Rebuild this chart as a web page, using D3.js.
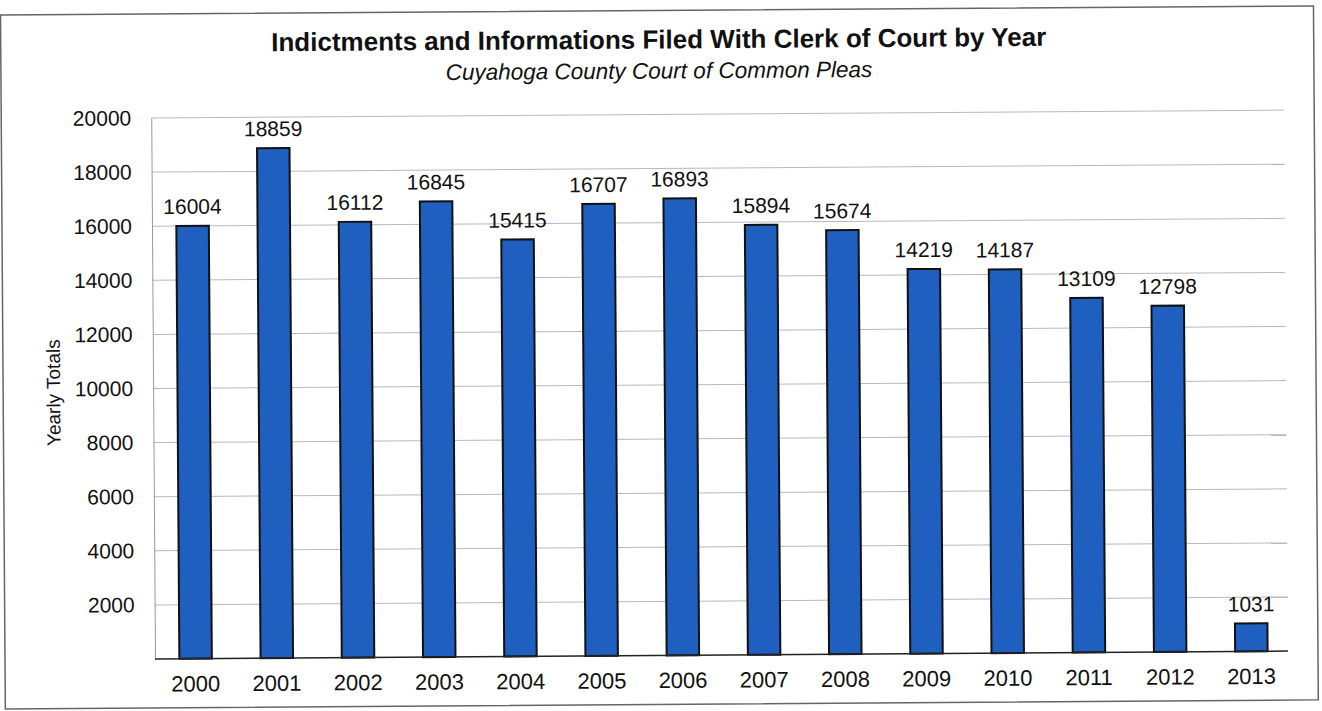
<!DOCTYPE html>
<html><head><meta charset="utf-8">
<script src="https://cdn.jsdelivr.net/npm/d3@7"></script>
<style>body{margin:0;background:#fff}svg{display:block}text{font-family:"Liberation Sans",Arial,sans-serif;fill:#111}</style>
</head><body>
<script>
const years = ["2000","2001","2002","2003","2004","2005","2006","2007","2008","2009","2010","2011","2012","2013"];
const totals = [16004,18859,16112,16845,15415,16707,16893,15894,15674,14219,14187,13109,12798,1031];
const yTicks = [2000,4000,6000,8000,10000,12000,14000,16000,18000,20000];
const title = "Indictments and Informations Filed With Clerk of Court by Year";
const subtitle = "Cuyahoga County Court of Common Pleas";
const yLabel = "Yearly Totals";

const W=1322,H=711;
const L=155,R=1292,T=118,B=659;
const svg=d3.select("body").append("svg").attr("width",W).attr("height",H);
const g=svg.append("g").attr("transform",`rotate(-0.4,${L},${B})`);
g.append("rect").attr("x",5).attr("y",14).attr("width",1313).attr("height",694)
 .attr("fill","#fff").attr("stroke","#666").attr("stroke-width",1.5);

const x=d3.scaleBand().domain(years).range([L,R]).paddingInner(0.6).paddingOuter(0.3);
const y=d3.scaleLinear().domain([0,20000]).range([B,T]);

g.append("g").selectAll("line").data(yTicks).join("line")
 .attr("x1",L).attr("x2",R-4).attr("y1",d=>y(d)).attr("y2",d=>y(d))
 .attr("stroke","#b8b8c0").attr("stroke-width",1);

const ya=g.append("g").attr("transform",`translate(${L},0)`)
 .call(d3.axisLeft(y).tickValues(yTicks).tickSize(0).tickPadding(20).tickFormat(d3.format("d")));
ya.select(".domain").attr("stroke","#999");
ya.selectAll("text").attr("font-size",21).style("font-family","Liberation Sans, Arial, sans-serif").attr("fill","#111");

g.selectAll("rect.bar").data(years).join("rect").attr("class","bar")
 .attr("x",d=>x(d)).attr("width",x.bandwidth())
 .attr("y",(d,i)=>y(totals[i])).attr("height",(d,i)=>B-y(totals[i]))
 .attr("fill","#1f5fbf").attr("stroke","#111").attr("stroke-width",2);

g.append("line").attr("x1",L).attr("x2",R-4).attr("y1",B).attr("y2",B).attr("stroke","#222").attr("stroke-width",1.5);

const xa=g.append("g").attr("transform",`translate(0,${B})`)
 .call(d3.axisBottom(x).tickSize(0).tickPadding(17));
xa.select(".domain").remove();
xa.selectAll("text").attr("font-size",22).style("font-family","Liberation Sans, Arial, sans-serif").attr("fill","#111");

g.selectAll("text.val").data(years).join("text").attr("class","val")
 .attr("x",d=>x(d)+x.bandwidth()/2).attr("y",(d,i)=>y(totals[i])-12)
 .attr("text-anchor","middle").attr("font-size",21).text((d,i)=>totals[i]);

g.append("text").attr("x",663).attr("y",52).attr("text-anchor","middle")
 .attr("font-size",26).attr("font-weight","bold").text(title);
g.append("text").attr("x",663).attr("y",82).attr("text-anchor","middle")
 .attr("font-size",22.5).attr("font-style","italic").text(subtitle);
g.append("text").attr("transform",`translate(62,392) rotate(-90)`).attr("text-anchor","middle")
 .attr("font-size",19).text(yLabel);
</script>
</body></html>
